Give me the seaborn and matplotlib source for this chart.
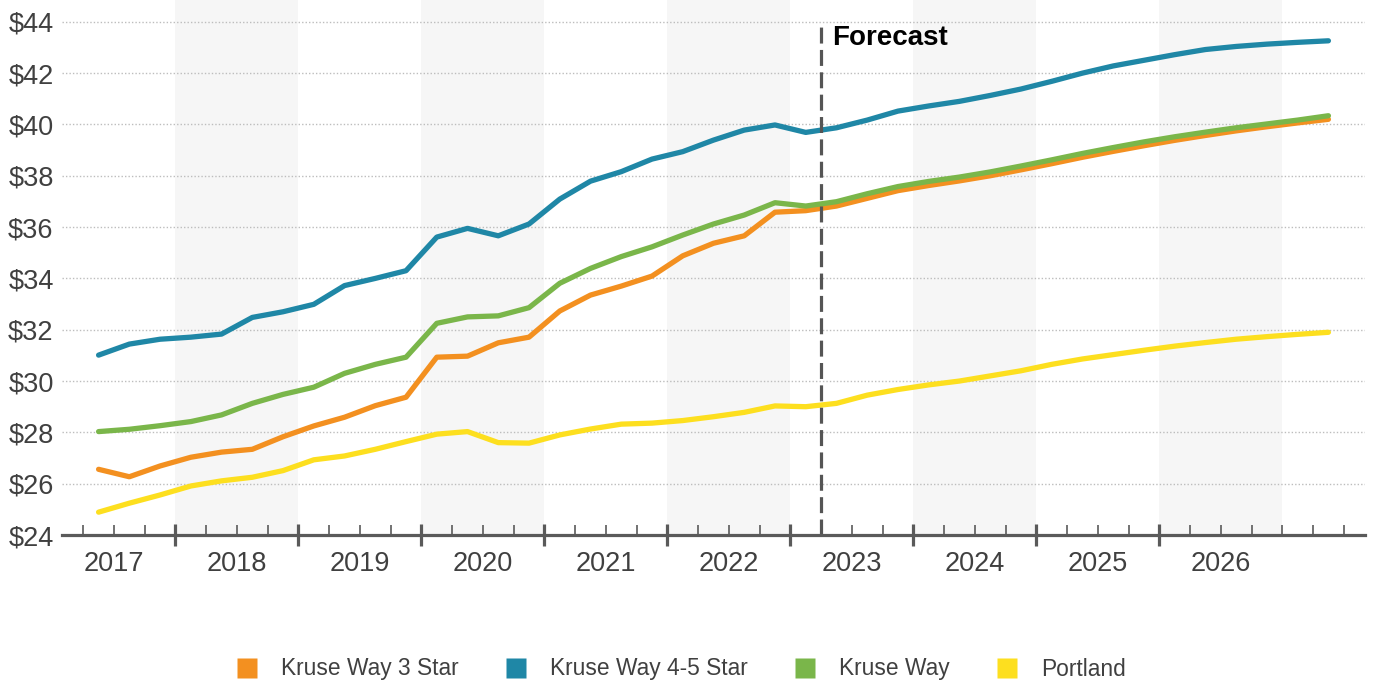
import numpy as np
import pandas as pd
import matplotlib
matplotlib.use("Agg")
import matplotlib.pyplot as plt
from matplotlib.lines import Line2D
import seaborn as sns

# ---- data (quarterly, index 0..40) ----
years = ["2017", "2018", "2019", "2020", "2021", "2022", "2023", "2024", "2025", "2026"]
series_names = ["Kruse Way 3 Star", "Kruse Way 4-5 Star", "Kruse Way", "Portland"]
colors = ["#f39020", "#1f87a6", "#7ab64a", "#fddf1f"]

kw3 = [26.56, 26.27, 26.69, 27.03, 27.23, 27.34, 27.83, 28.25, 28.59, 29.04, 29.37,
       30.93, 30.97, 31.49, 31.71, 32.73, 33.35, 33.70, 34.09, 34.88, 35.37, 35.66,
       36.58, 36.64, 36.82, 37.12, 37.42, 37.62, 37.80, 38.00, 38.23, 38.47, 38.72,
       38.95, 39.17, 39.38, 39.57, 39.75, 39.91, 40.06, 40.20]
kw45 = [31.01, 31.44, 31.63, 31.71, 31.83, 32.48, 32.70, 32.99, 33.72, 34.00, 34.30,
        35.61, 35.95, 35.66, 36.12, 37.09, 37.79, 38.16, 38.65, 38.94, 39.39, 39.78,
        39.98, 39.69, 39.87, 40.17, 40.52, 40.72, 40.90, 41.13, 41.38, 41.68, 42.00,
        42.28, 42.50, 42.72, 42.92, 43.04, 43.13, 43.20, 43.26]
kw = [28.03, 28.12, 28.26, 28.42, 28.68, 29.13, 29.48, 29.76, 30.30, 30.65, 30.93,
      32.25, 32.50, 32.54, 32.86, 33.81, 34.39, 34.85, 35.23, 35.69, 36.12, 36.47,
      36.95, 36.82, 36.99, 37.30, 37.58, 37.78, 37.95, 38.15, 38.38, 38.62, 38.87,
      39.10, 39.32, 39.52, 39.70, 39.87, 40.02, 40.17, 40.34]
portland = [24.89, 25.24, 25.56, 25.91, 26.11, 26.25, 26.51, 26.93, 27.08, 27.34, 27.64,
            27.93, 28.03, 27.60, 27.58, 27.90, 28.13, 28.32, 28.36, 28.46, 28.61, 28.78,
            29.03, 29.00, 29.13, 29.45, 29.67, 29.85, 30.00, 30.20, 30.40, 30.65, 30.86,
            31.03, 31.20, 31.36, 31.50, 31.63, 31.73, 31.82, 31.90]
forecast_start = 23.5
yticks = [24, 26, 28, 30, 32, 34, 36, 38, 40, 42, 44]

values = [kw3, kw45, kw, portland]
n = len(kw3)
quarter = np.arange(n)
df = pd.DataFrame({
    "q": np.tile(quarter, len(series_names)),
    "value": np.concatenate(values),
    "series": np.repeat(series_names, n),
})

sns.set_style("white")
plt.rcParams["font.family"] = ["Liberation Sans", "DejaVu Sans"]

fig = plt.figure(figsize=(13.75, 6.84), dpi=100)
ax = fig.add_axes([62 / 1375, 1 - 535 / 684, (1365 - 62) / 1375, 535 / 684])

xmin, xmax = -1.19, n - 1 + 1.19
ymin, ymax = 24, 44.85

# alternating year shading
for k in range(len(years)):
    if k % 2 == 1:
        ax.axvspan(-1.5 + 4 * k, 2.5 + 4 * k, color="#f6f6f6", lw=0, zorder=0)

# gridlines
for yv in yticks[1:]:
    ax.axhline(yv, color="#bdbdbd", lw=1.0, ls=(0, (1, 1.5)), zorder=1)

sns.lineplot(data=df, x="q", y="value", hue="series", hue_order=series_names,
             palette=colors, lw=3.8, ax=ax, legend=False, zorder=3,
             solid_capstyle="round", solid_joinstyle="round")

# forecast marker
ax.vlines(forecast_start, 24, 44, colors="#555555", lw=2.3, ls=(0, (5, 2)), zorder=4)
ax.text(forecast_start + 0.35, 43.38, "Forecast", fontsize=20, fontweight="bold",
        color="black", ha="left", va="center", zorder=5)

ax.set_xlim(xmin, xmax)
ax.set_ylim(ymin, ymax)

# axes styling
for s in ["top", "right", "left"]:
    ax.spines[s].set_visible(False)
ax.spines["bottom"].set_color("#5a5a5a")
ax.spines["bottom"].set_linewidth(2.3)
ax.spines["bottom"].set_zorder(6)

major = [2.5 + 4 * k for k in range(len(years) - 1)]
minor = [i + 0.5 for i in range(-1, n) if (i + 0.5) not in major]
ax.set_xticks(major)
ax.set_xticks(minor, minor=True)
ax.tick_params(axis="x", which="both", bottom=True, top=False)
ax.tick_params(axis="x", which="major", direction="inout", length=16, width=2.3,
               color="#5a5a5a", labelbottom=False)
ax.tick_params(axis="x", which="minor", direction="in", length=7.5, width=1.2,
               color="#5a5a5a", labelbottom=False)

ax.set_yticks(yticks)
ax.set_yticklabels([f"${v}" for v in yticks])
ax.tick_params(axis="y", length=0, pad=6, labelsize=19.5, labelcolor="#404040")
ax.set_xlabel("")
ax.set_ylabel("")

# year labels
for k, yr in enumerate(years):
    ax.text(0.5 + 4 * k, -0.055, yr, transform=ax.get_xaxis_transform(),
            ha="center", va="center", fontsize=19.5, color="#404040")

# legend
handles = [Line2D([0], [0], marker="s", color="none", markerfacecolor=c,
                  markeredgecolor="none", markersize=14.5) for c in colors]
fig.legend(handles, series_names, loc="center left", ncol=4,
           bbox_to_anchor=(236.8 / 1375, 1 - 669 / 684), frameon=False,
           borderaxespad=0, borderpad=0,
           fontsize=16.4, handlelength=0.9, handletextpad=1.04,
           columnspacing=2.07, labelcolor="#404040")

fig.savefig("out.png", dpi=100)
